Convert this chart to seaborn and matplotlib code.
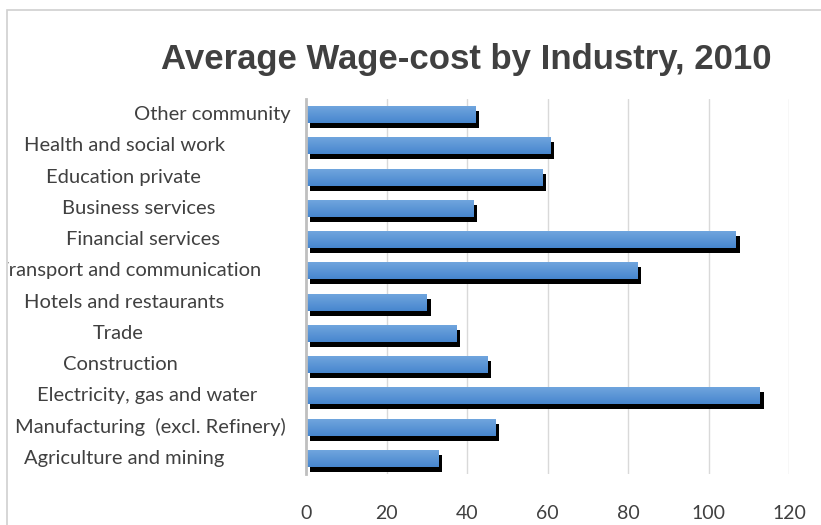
import numpy as np
import matplotlib
matplotlib.use("Agg")
import matplotlib.pyplot as plt
import matplotlib.patheffects as pe
from matplotlib.transforms import blended_transform_factory
from matplotlib.patches import Rectangle
import pandas as pd
import seaborn as sns

industries = ["Other community", "Health and social work", "Education private",
              "Business services", "Financial services", "Transport and communication",
              "Hotels and restaurants", "Trade", "Construction",
              "Electricity, gas and water", "Manufacturing  (excl. Refinery)",
              "Agriculture and mining"]
wage_cost = [42.0, 60.7, 58.7, 41.5, 106.7, 82.3, 29.9, 37.3, 45.0, 112.7, 47.0, 32.8]
xticks = [0, 20, 40, 60, 80, 100, 120]

# pixel centres of the category labels (Excel places them oddly)
label_x = [212, 125, 123, 139, 143, 129, 124.5, 118.5, 120.5, 147, 150.5, 124]

df = pd.DataFrame({"industry": industries, "wage": wage_cost})

sns.set_style("white")
plt.rcParams["font.family"] = ["Lato", "DejaVu Sans"]

W, H = 821, 525
fig = plt.figure(figsize=(W / 100, H / 100), dpi=100)
ax = fig.add_axes([306 / W, 1 - 474 / H, (789 - 306) / W, (474 - 99) / H])

sns.barplot(data=df, x="wage", y="industry", orient="h", color="#5b95d6",
            width=0.54, ax=ax, saturation=1)

grad = np.linspace(0, 1, 64)[:, None]
top = np.array(matplotlib.colors.to_rgb("#70a5de"))
bot = np.array(matplotlib.colors.to_rgb("#4786ce"))
img = top[None, None, :] * (1 - grad[..., None]) + bot[None, None, :] * grad[..., None]

for p in ax.patches:
    p.set_edgecolor("none")
    p.set_path_effects([pe.SimplePatchShadow(offset=(3, -3.6), shadow_rgbFace="black", alpha=1),
                        pe.Normal()])
    x0, y0, w, h = p.get_x(), p.get_y(), p.get_width(), p.get_height()
    im = ax.imshow(img, extent=(x0, x0 + w, y0 + h, y0), origin="upper",
                   aspect="auto", zorder=3, interpolation="bilinear")
    im.set_clip_path(p)

ax.set_xlim(0, 120)
ax.set_ylim(len(industries) - 0.5, -0.5)
ax.set_xticks(xticks)
ax.set_xticklabels([str(t) for t in xticks])
ax.tick_params(axis="x", length=0, pad=22, labelsize=14, labelcolor="#404040")
ax.set_yticks([])
ax.set_xlabel("")
ax.set_ylabel("")
ax.grid(axis="x", color="#d9d9d9", linewidth=1)
ax.set_axisbelow(True)
for s in ["top", "right", "bottom"]:
    ax.spines[s].set_visible(False)
ax.spines["left"].set_color("#bfbfbf")
ax.spines["left"].set_linewidth(2)
ax.spines["left"].set_zorder(4)

# outer chart frame, running off the right and bottom edges
frame = Rectangle((7 / W, -1), 2, 2 - 10 / H, transform=fig.transFigure,
                  fill=False, edgecolor="#d0d0d0", linewidth=1.2)
fig.add_artist(frame)
clip = Rectangle((8 / W, 0), 1, 1, transform=fig.transFigure, visible=False)
fig.add_artist(clip)

tr = blended_transform_factory(fig.transFigure, ax.transData)
for i, (name, cx) in enumerate(zip(industries, label_x)):
    t = ax.text(cx / W, i, name, transform=tr, ha="center", va="center",
                fontsize=14.5, color="#404040", clip_on=True)
    t.set_clip_path(clip)

fig.text(466 / W, 1 - 59 / H, "Average Wage-cost by Industry, 2010",
         family="Liberation Sans", fontweight="bold", fontsize=25,
         color="#404040", ha="center", va="center")

fig.savefig("out.png", dpi=100)
